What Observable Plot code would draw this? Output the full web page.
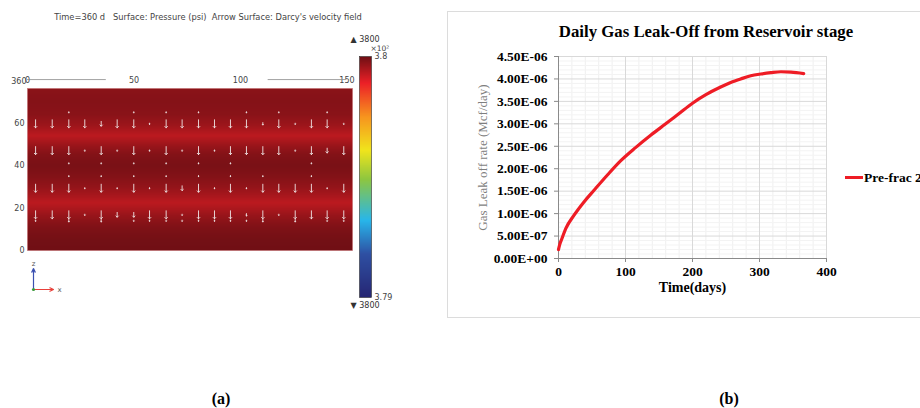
<!DOCTYPE html>
<html><head><meta charset="utf-8">
<script src="https://cdn.jsdelivr.net/npm/d3@7"></script>
<script src="https://cdn.jsdelivr.net/npm/@observablehq/plot@0.6"></script>
<style>
html,body{margin:0;padding:0;background:#fff;}
#page{position:relative;width:920px;height:408px;overflow:hidden;background:#fff;}
.abs{position:absolute;white-space:nowrap;}
.abs svg{display:block;}
</style></head><body><div id="page"></div>
<script>
// ---------- Panel (a): pressure surface ----------
const fieldTitle = "Time=360 d   Surface: Pressure (psi)  Arrow Surface: Darcy's velocity field";
const fieldXDomain = [0, 152.6];
const fieldZDomain = [0, 76.2];
const fieldXTicks = [0, 50, 100, 150];
const fieldZTicks = [0, 20, 40, 60];
// pressure (x10^2 psi) profile along z
const fieldZ = [0, 4, 8, 12, 16, 19, 22.5, 26, 30, 35, 40, 45, 49, 54, 59, 64, 70, 76.2];
const fieldP = [3.79998, 3.79996, 3.7999, 3.79982, 3.79966, 3.7995, 3.79932, 3.7995, 3.79968, 3.79982, 3.7999, 3.79982, 3.79964, 3.79932, 3.7996, 3.79976, 3.7998, 3.79975];
// velocity arrows: column x positions, row z positions, relative magnitudes
const arrowX = [3.8, 11.6, 19.4, 26.9, 34.6, 42.1, 49.9, 57.3, 65.1, 72.6, 80.3, 87.8, 95.3, 102.8, 110.5, 118.0, 125.7, 133.3, 140.7, 148.5];
const arrowRowZ = [65, 59.6, 47, 41, 35, 29.3, 16.8, 14];
const arrowMag = [
  [0,0,0.15,0,0,0,0.15,0,0.15,0,0.15,0,0,0.15,0,0.15,0,0,0.15,0],
  [1,1,1,1,0.6,1,1,0.15,1,1,1,1,1,1,0.3,1,0.15,1,1,0.15],
  [1,1,1,0.15,1,0.15,1,0.15,1,0.15,1,0.15,1,1,1,1,0.15,1,0.6,1],
  [0,0,0.15,0,0.15,0,0.15,0,0.15,0,0.15,0,0.15,0,0,0,0,0.15,0,0],
  [0,0,0.15,0,0.15,0,0.15,0,0.15,0,0.15,0,0.15,0,0.15,0,0,0.15,0,0],
  [1,1,1,0.15,1,0.15,1,0.15,1,0.6,1,0.15,1,0.15,1,1,1,1,0.15,1],
  [1,1,1,0.15,1,0.6,0.6,1,1,0.15,1,1,1,0.3,1,0.15,1,1,1,1],
  [0.15,0,0.3,0,0.3,0,0.15,0.15,0.15,0.15,0.15,0.15,0.15,0.15,0.3,0,0.3,0,0.15,0.15]
];
const topAxisZ = 80.4;
const topAxisSegments = [[0, 37], [113, 150]];
const colorDomain = [3.79, 3.80];
const colorbarTicks = [3.79, 3.8];
const colorbarMaxLabel = "\u25B2 3800";
const colorbarMinLabel = "\u25BC 3800";
const colorbarUnit = "\u00D710\u00B2";
const jetStops = [0, 0.18, 0.32, 0.49, 0.61, 0.75, 0.89, 1];
const jetColors = ["#262673", "#2e50a3", "#28b6ea", "#8dc640", "#f0e51c", "#f7941e", "#ec2027", "#6e0f14"];
const triadAxes = ["x", "z"];

// ---------- Panel (b): gas leak-off ----------
const chartTitle = "Daily Gas Leak-Off from Reservoir stage";
const days = [0, 2, 5, 11, 23, 38, 53, 73, 93, 115, 138, 160, 180, 200, 220, 242, 257, 272, 287, 302, 317, 332, 347, 366];
const leakRate = [2.0e-7, 3.2e-7, 4.4e-7, 6.7e-7, 9.6e-7, 1.26e-6, 1.52e-6, 1.86e-6, 2.18e-6, 2.47e-6, 2.75e-6, 3.0e-6, 3.23e-6, 3.46e-6, 3.65e-6, 3.82e-6, 3.92e-6, 4.0e-6, 4.07e-6, 4.11e-6, 4.14e-6, 4.16e-6, 4.15e-6, 4.12e-6];
const xTicks = [0, 100, 200, 300, 400];
const xMinor = [20, 40, 60, 80, 120, 140, 160, 180, 220, 240, 260, 280, 320, 340, 360, 380];
const yTicks = [0, 5e-7, 1e-6, 1.5e-6, 2e-6, 2.5e-6, 3e-6, 3.5e-6, 4e-6, 4.5e-6];
const yMinor = [1e-7,2e-7,3e-7,4e-7,6e-7,7e-7,8e-7,9e-7,1.1e-6,1.2e-6,1.3e-6,1.4e-6,1.6e-6,1.7e-6,1.8e-6,1.9e-6,2.1e-6,2.2e-6,2.3e-6,2.4e-6,2.6e-6,2.7e-6,2.8e-6,2.9e-6,3.1e-6,3.2e-6,3.3e-6,3.4e-6,3.6e-6,3.7e-6,3.8e-6,3.9e-6,4.1e-6,4.2e-6,4.3e-6,4.4e-6];
const xLabel = "Time(days)";
const yLabel = "Gas Leak off rate (Mcf/day)";
const seriesName = "Pre-frac 2";
const captions = ["(a)", "(b)"];

// ---------- helpers ----------
const page = document.getElementById("page");
function place(node, left, top) {
  const d = document.createElement("div");
  d.className = "abs";
  d.style.left = left + "px"; d.style.top = top + "px";
  d.appendChild(node);
  page.appendChild(d);
  return d;
}
function textDiv(txt, css) {
  const d = document.createElement("div");
  d.className = "abs";
  d.textContent = txt;
  Object.assign(d.style, css);
  page.appendChild(d);
  return d;
}
const jet = d3.scaleLinear().domain(jetStops).range(jetColors).interpolate(d3.interpolateRgb).clamp(true);
const colorScale = {type: "linear", domain: colorDomain, interpolate: (t) => jet(t)};
const sans = "'DejaVu Sans', sans-serif";
const serif = "'Liberation Serif', 'Times New Roman', serif";

// thin arrow shape with a tiny head
const thinArrow = {
  draw(context, l) {
    const w = Math.min(1.3, l / 4);
    context.moveTo(0, 0);
    context.lineTo(0, -l);
    context.moveTo(-w, -l + w);
    context.lineTo(0, -l);
    context.lineTo(w, -l + w);
  }
};

// ---------- Panel (a) field plot ----------
const fieldData = fieldZ.flatMap((z, i) => fieldXDomain.map((x) => ({x, z, p: fieldP[i]})));
const arrows = arrowRowZ.flatMap((z, r) => arrowX.map((x, c) => ({x, z, m: arrowMag[r][c]}))).filter(d => d.m > 0);
const fieldPlot = Plot.plot({
  width: 380, height: 320,
  marginLeft: 27, marginRight: 28, marginTop: 88, marginBottom: 70,
  x: {domain: fieldXDomain},
  y: {domain: fieldZDomain},
  color: colorScale,
  length: {type: "linear", domain: [0, 1], range: [0, 8]},
  style: {fontFamily: sans, fontSize: "8px", color: "#444", background: "transparent"},
  marks: [
    Plot.raster(fieldData, {x: "x", y: "z", fill: "p", interpolate: "barycentric",
      x1: fieldXDomain[0], x2: fieldXDomain[1], y1: fieldZDomain[0], y2: fieldZDomain[1], pixelSize: 1}),
    Plot.frame({stroke: "#c26a6e", strokeWidth: 0.8, strokeOpacity: 0.7}),
    Plot.vector(arrows, {x: "x", y: "z", length: "m", rotate: 180, anchor: "middle", shape: thinArrow,
      stroke: "#efe6e6", strokeWidth: 1, strokeOpacity: 0.9}),
    Plot.axisX(fieldXTicks, {anchor: "top", tickSize: 0, tickPadding: 6, label: null, fill: "#444"}),
    Plot.axisY(fieldZTicks, {anchor: "left", tickSize: 0, tickPadding: 3, label: null, fill: "#444"}),
    Plot.ruleY(topAxisSegments, {y: topAxisZ, x1: d => d[0], x2: d => d[1], stroke: "#8a8a8a", strokeWidth: 0.8}),
    Plot.text(["360"], {x: fieldXDomain[0], frameAnchor: "top", dy: -10, dx: -1, textAnchor: "end", fill: "#444"})
  ]
});
place(fieldPlot, 0, 0);
textDiv(fieldTitle, {left: "0px", top: "12px", width: "416px", textAlign: "center", font: "8.3px " + sans, color: "#444", lineHeight: "10px", whiteSpace: "pre"});

// ---------- colorbar ----------
const colorbar = Plot.plot({
  width: 80, height: 320,
  marginLeft: 19, marginRight: 49, marginTop: 56, marginBottom: 23,
  x: {domain: [0, 1], axis: null},
  y: {domain: colorDomain},
  color: colorScale,
  style: {fontFamily: sans, fontSize: "8px", color: "#444", background: "transparent"},
  marks: [
    Plot.raster({fill: (x, y) => y, x1: 0, x2: 1, y1: colorDomain[0], y2: colorDomain[1], pixelSize: 1}),
    Plot.frame({stroke: "#333", strokeWidth: 0.6}),
    Plot.axisY(colorbarTicks, {anchor: "right", tickSize: 0, tickPadding: 3, label: null, tickFormat: d3.format("~g"), fill: "#444"}),
    Plot.text([colorbarMaxLabel], {frameAnchor: "top-left", dx: -9, dy: -20, textAnchor: "start", fill: "#333"}),
    Plot.text([colorbarUnit], {frameAnchor: "top-right", dx: -1, dy: -11, textAnchor: "start", fill: "#444", fontSize: 7.5}),
    Plot.text([colorbarMinLabel], {frameAnchor: "bottom-left", dx: -9, dy: 10, textAnchor: "start", fill: "#333"})
  ]
});
place(colorbar, 340, 0);

// ---------- axis triad ----------
const triad = Plot.plot({
  width: 45, height: 40,
  marginLeft: 8, marginRight: 17, marginTop: 10, marginBottom: 9,
  x: {domain: [0, 1], axis: null}, y: {domain: [0, 1], axis: null},
  style: {fontFamily: sans, fontSize: "7px", background: "transparent"},
  marks: [
    Plot.arrow(triadAxes, {x1: 0, y1: 0, x2: d => d === "x" ? 1 : 0, y2: d => d === "z" ? 1 : 0,
      stroke: d => d === "x" ? "#e8403a" : "#3a4fb0", strokeWidth: 1.2, headLength: 5, headAngle: 50}),
    Plot.text(triadAxes, {x: d => d === "x" ? 1 : 0, y: d => d === "z" ? 1 : 0, text: d => d,
      dx: 0, dy: 0, fill: "#555", textAnchor: "middle"}),
    Plot.dot(["y"], {x: 0, y: 0, r: 1.6, fill: "#3c9a3c", stroke: null})
  ]
});
triad.querySelectorAll("g[aria-label=text] text").forEach((t, i) => {
  if (i === 0) { t.setAttribute("dx", 6); } else { t.setAttribute("dy", -5); }
});
place(triad, 25, 258);

// ---------- Panel (b) ----------
const box = document.createElement("div");
box.className = "abs";
Object.assign(box.style, {left: "447px", top: "11px", width: "520px", height: "307px", border: "1px solid #dcdcdc", boxSizing: "border-box"});
page.appendChild(box);

function fmtE(d) {
  const [m, e] = d.toExponential(2).split("e");
  const n = +e;
  return m + "E" + (n < 0 ? "-" : "+") + String(Math.abs(n)).padStart(2, "0");
}
const leak = days.map((t, i) => ({t, v: leakRate[i]}));
const chart = Plot.plot({
  width: 473, height: 307,
  marginLeft: 111, marginRight: 94, marginTop: 45, marginBottom: 60,
  x: {domain: [0, 400]},
  y: {domain: [0, 4.5e-6]},
  style: {fontFamily: serif, fontSize: "13.5px", fontWeight: "bold", color: "#000", background: "transparent"},
  marks: [
    Plot.gridX(xMinor, {stroke: "#efefef", strokeOpacity: 1}),
    Plot.gridY(yMinor, {stroke: "#f3f3f3", strokeOpacity: 1}),
    Plot.gridX(xTicks, {stroke: "#d9d9d9", strokeOpacity: 1}),
    Plot.gridY(yTicks, {stroke: "#d9d9d9", strokeOpacity: 1}),
    Plot.ruleX([0], {stroke: "#8a8a8a"}),
    Plot.ruleY([0], {stroke: "#8a8a8a"}),
    Plot.axisX(xTicks, {tickSize: 4, tickPadding: 4, label: null, stroke: "#8a8a8a", fill: "#000"}),
    Plot.axisY(yTicks, {tickSize: 4, tickPadding: 7, label: null, tickFormat: fmtE, stroke: "#8a8a8a", fill: "#000"}),
    Plot.line(leak, {x: "t", y: "v", stroke: "#ee1c25", strokeWidth: 3.2, curve: "monotone-x"}),
    Plot.text([xLabel], {frameAnchor: "bottom", dy: 33, fontSize: 14, fontWeight: "bold", fill: "#000"}),
    Plot.text([yLabel], {frameAnchor: "left", dx: -76, rotate: -90, textAnchor: "middle", fontSize: 13, fontWeight: "normal", fill: "#7f7f7f"})
  ]
});
place(chart, 447, 11);
textDiv(chartTitle, {left: "506px", top: "23px", width: "400px", textAlign: "center", font: "bold 16.8px " + serif, color: "#000", lineHeight: "18px"});

// legend
const sw = document.createElement("div");
sw.className = "abs";
Object.assign(sw.style, {left: "845px", top: "176px", width: "18px", height: "3px", background: "#ee1c25"});
page.appendChild(sw);
textDiv(seriesName, {left: "864px", top: "170px", font: "bold 13.5px " + serif, color: "#000", lineHeight: "16px"});

// captions
textDiv(captions[0], {left: "181px", top: "390px", width: "80px", textAlign: "center", font: "bold 16px " + serif, color: "#000", lineHeight: "18px"});
textDiv(captions[1], {left: "689px", top: "390px", width: "80px", textAlign: "center", font: "bold 16px " + serif, color: "#000", lineHeight: "18px"});
</script>
</body></html>
